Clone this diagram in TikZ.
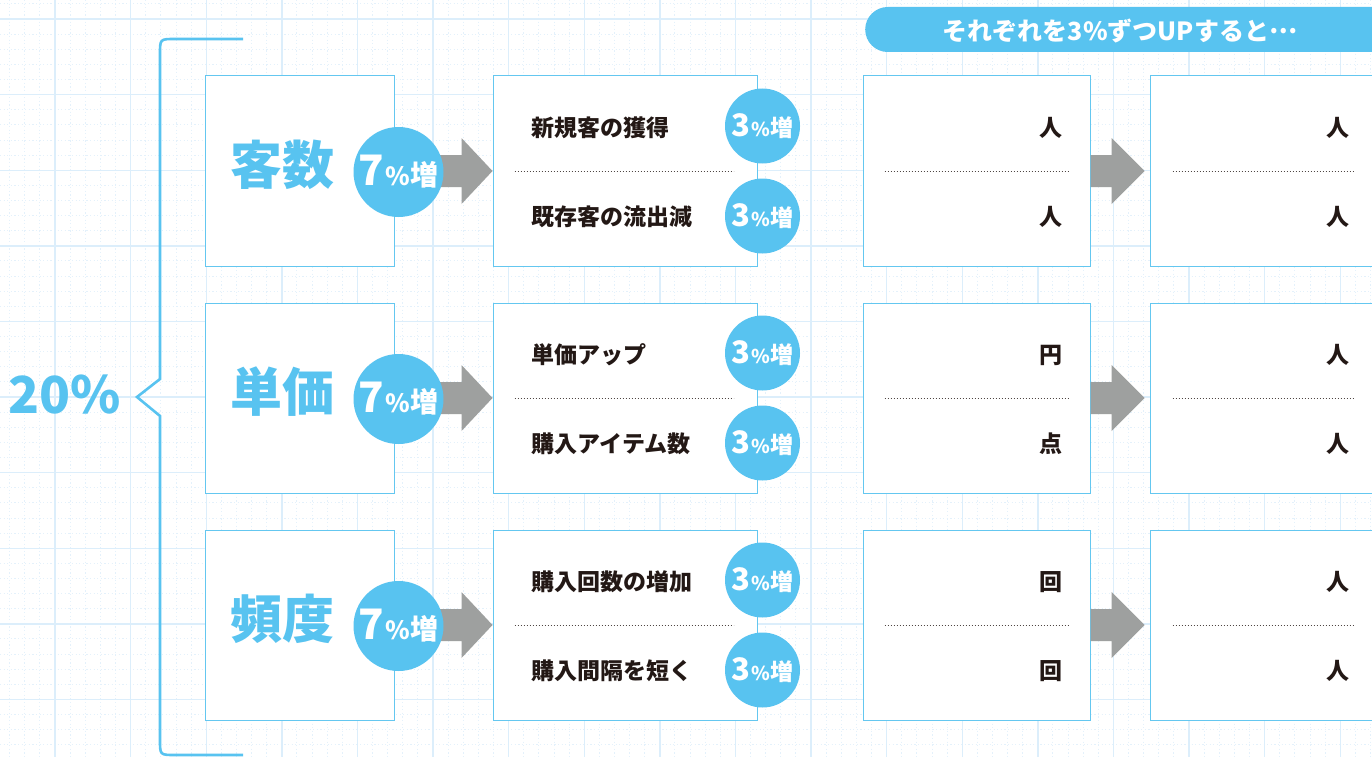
\documentclass[tikz,border=0pt]{standalone}
\usepackage{fontspec}
\setmainfont{Noto Sans CJK JP}
\usetikzlibrary{calc}
\definecolor{sky}{RGB}{88,195,240}
\definecolor{boxblue}{RGB}{100,199,240}
\definecolor{arrowgray}{RGB}{158,160,159}
\definecolor{ink}{RGB}{35,24,21}
\definecolor{gridmajor}{RGB}{220,238,251}
\definecolor{gridminor}{RGB}{228,241,251}
\newcommand\incbig{{\fontsize{42}{42}\selectfont 7}\kern1pt{\fontsize{25}{25}\selectfont\%}{\fontsize{28}{28}\selectfont 増}}
\newcommand\incsmall{{\fontsize{31}{31}\selectfont 3}\kern1pt{\fontsize{19}{19}\selectfont\%}{\fontsize{23}{23}\selectfont 増}}
\tikzset{
  gridminorline/.style={gridminor, line width=0.9pt, dash pattern=on 1.2pt off 2.4pt},
  gridmajorline/.style={gridmajor, line width=1.4pt},
  panel/.style={draw=boxblue, line width=1pt, fill=white, inner sep=0pt, minimum height=190pt},
  catbox/.style={panel, minimum width=189pt},
  itembox/.style={panel, minimum width=264pt},
  resbox/.style={panel, minimum width=227pt},
  resboxb/.style={panel, minimum width=260pt},
  bigcirc/.style={circle, fill=sky, minimum size=90pt, inner sep=0pt, text=white, font=\bfseries},
  smallcirc/.style={circle, fill=sky, minimum size=75pt, inner sep=0pt, text=white, font=\bfseries},
  cattext/.style={text=sky, font=\fontsize{52}{52}\selectfont\bfseries, inner sep=0pt},
  itemtext/.style={text=ink, font=\fontsize{23}{23}\selectfont\bfseries, inner sep=0pt, anchor=west},
  unittext/.style={text=ink, font=\fontsize{23}{23}\selectfont\bfseries, inner sep=0pt},
  sep/.style={ink!80, line width=0.9pt, dash pattern=on 0.9pt off 2.1pt},
  grayarrow/.style={fill=arrowgray},
}
\begin{document}
\begin{tikzpicture}[x=1pt,y=-1pt]
\useasboundingbox (0,0) rectangle (1372,757);
\clip (0,0) rectangle (1372,757);
\fill[white] (0,0) rectangle (1372,757);
% grid
\foreach \k in {0,...,91} {\draw[gridminorline] ({9.64+\k*15.12},0) -- ++(0,757);}
\foreach \k in {0,...,50} {\draw[gridminorline] (0,{3.88+\k*15.12}) -- ++(1372,0);}
\foreach \k in {0,...,18} {\draw[gridmajorline] ({55+(\k-1)*75.6},0) -- ++(0,757);}
\foreach \k in {0,...,10} {\draw[gridmajorline] (0,{19+\k*75.6}) -- ++(1372,0);}
% header pill
\node[fill=sky, rounded corners=22.5pt, minimum width=560pt, minimum height=45pt, inner sep=0pt, anchor=west] (pill) at (865,29.5) {};
\node[text=white, font=\fontsize{25}{25}\selectfont\bfseries, inner sep=0pt] (pilltext) at (1120,31) {それぞれを3\%ずつUPすると\raisebox{0.3em}{…}};
% brace
\coordinate (bt) at (243,39);
\coordinate (bb) at (243,755);
\draw[sky, line width=2.6pt, line join=miter] (bt) -- (175,39) .. controls (160,39) .. (160,54) -- (160,379) -- (137,397) -- (160,416) -- (160,740) .. controls (160,755) .. (175,755) -- (bb);
\node[text=sky, font=\fontsize{51}{51}\selectfont\bfseries, inner sep=0pt] (total) at (65,395) {20\%};
% rows
\foreach \r/\cat/\ia/\ib/\ra/\rb in {0/客数/新規客の獲得/既存客の流出減/人/人, 1/単価/単価アップ/購入アイテム数/円/点, 2/頻度/購入回数の増加/購入間隔を短く/回/回}
{
  \pgfmathsetmacro\cy{171+\r*227}
  \node[catbox] (cat\r) at (299.5,\cy) {};
  \node[itembox] (item\r) at (625,\cy) {};
  \node[resbox] (resa\r) at (976.5,\cy) {};
  \node[resboxb] (resb\r) at (1280,\cy) {};
  % arrows
  \fill[grayarrow] ($(item\r.west)+(-75,-16)$) -- ($(item\r.west)+(-31,-16)$) -- ($(item\r.west)+(-31,-33)$) -- (item\r.west) -- ($(item\r.west)+(-31,33)$) -- ($(item\r.west)+(-31,16)$) -- ($(item\r.west)+(-75,16)$) -- cycle;
  \coordinate (tip\r) at ($(resb\r.west)+(-5,0)$);
  \fill[grayarrow] ($(resa\r.east)+(0,-16)$) -- ($(tip\r)+(-33,-16)$) -- ($(tip\r)+(-33,-33)$) -- (tip\r) -- ($(tip\r)+(-33,33)$) -- ($(tip\r)+(-33,16)$) -- ($(resa\r.east)+(0,16)$) -- cycle;
  % circles
  \node[bigcirc] (up\r) at ($(cat\r.east)+(4,1)$) {\incbig};
  \node[smallcirc] (upa\r) at ($(item\r.east)+(5,-45)$) {\incsmall};
  \node[smallcirc] (upb\r) at ($(item\r.east)+(5,45)$) {\incsmall};
  % texts
  \node[cattext] (catt\r) at ($(cat\r.center)+(-17.5,-6)$) {\cat};
  \node[itemtext] (ia\r) at ($(item\r.west)+(39,-43)$) {\ia};
  \node[itemtext] (ib\r) at ($(item\r.west)+(39,46)$) {\ib};
  \draw[sep] ($(item\r.west)+(22,0)$) -- ($(item\r.east)+(-24,0)$);
  \node[unittext] (ra\r) at ($(resa\r.east)+(-40,-43)$) {\ra};
  \node[unittext] (rb\r) at ($(resa\r.east)+(-40,46)$) {\rb};
  \draw[sep] ($(resa\r.west)+(22,0)$) -- ($(resa\r.east)+(-22,0)$);
  \node[unittext] (rc\r) at ($(resb\r.west)+(188,-43)$) {人};
  \node[unittext] (rd\r) at ($(resb\r.west)+(188,46)$) {人};
  \draw[sep] ($(resb\r.west)+(23,0)$) -- ($(resb\r.west)+(205,0)$);
}
\end{tikzpicture}
\end{document}
